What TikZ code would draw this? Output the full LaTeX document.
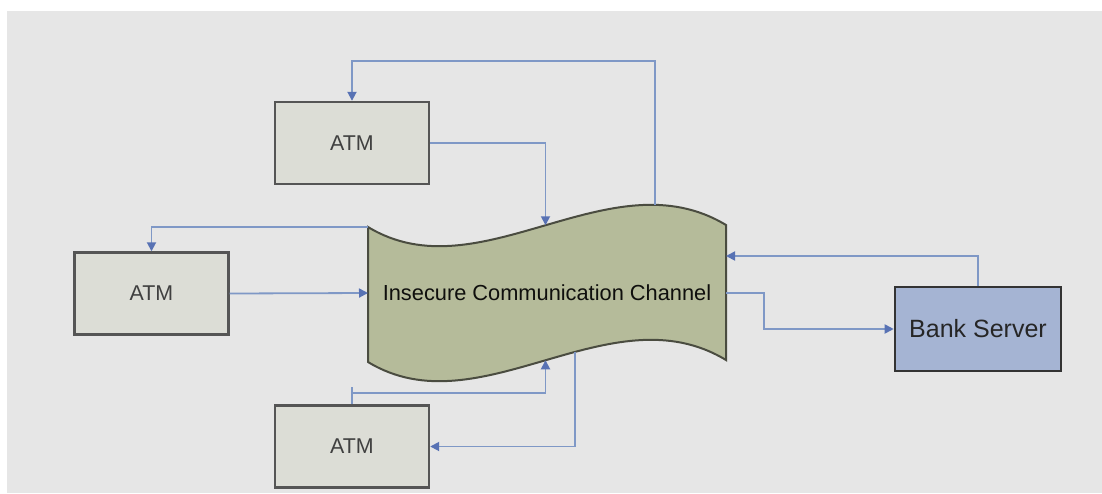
\documentclass[tikz,border=0pt]{standalone}
\usepackage{fontspec}
\setmainfont{Liberation Sans}
\usetikzlibrary{arrows.meta,calc}

\definecolor{pagebg}{HTML}{E6E6E6}
\definecolor{atmfill}{HTML}{DCDDD6}
\definecolor{boxline}{HTML}{555555}
\definecolor{chanfill}{HTML}{B5BB9A}
\definecolor{chanline}{HTML}{4A4C40}
\definecolor{bankfill}{HTML}{A5B4D3}
\definecolor{link}{HTML}{7F98C6}
\definecolor{tipblue}{HTML}{5872B4}

\tikzset{
  atmbox/.style={draw=boxline, line width=1.2pt, fill=atmfill,
    minimum width=77pt, minimum height=41pt, inner sep=0pt,
    font=\fontsize{10.7}{12}\selectfont, text=black!75},
  bankbox/.style={draw=black!80, line width=1.3pt, fill=bankfill,
    minimum width=83pt, minimum height=42pt, inner sep=0pt,
    font=\fontsize{12.5}{14}\selectfont, text=black!85},
  link/.style={draw=link, line width=0.9pt,
    -{Triangle[length=4.5pt,width=4.5pt,fill=tipblue,color=tipblue]}},
}

\begin{document}
\begin{tikzpicture}[x=0.5pt, y=-0.5pt]
  % page and grey panel
  \useasboundingbox (0,0) rectangle (1102,493);
  \fill[white] (0,0) rectangle (1102,493);
  \fill[pagebg] (7,11) rectangle (1102,493);

  % wavy channel shape with anchor points along its edges
  \path[fill=chanfill, draw=chanline, line width=1pt]
    (368,227) coordinate (ctl)
    .. controls (480,295) and (610,155) .. (726,225)
       coordinate[pos=0.5] (ctopin) coordinate[pos=0.8] (ctopout)
    -- (726,360)
    .. controls (610,290) and (480,430) .. (368,362)
       coordinate[pos=0.42] (cbotout) coordinate[pos=0.5] (cbotin)
    -- cycle;
  \node[font=\fontsize{10.9}{12}\selectfont, text=black!80!chanline] (chan) at (547,293)
    {Insecure Communication Channel};
  \coordinate (cw) at (368,293);
  \coordinate (ce) at (726,293);

  % terminals
  \node[atmbox] (tatm) at (352,143) {ATM};
  \node[atmbox] (matm) at (151.5,293.5) {ATM};
  \node[atmbox] (batm) at (352,446.5) {ATM};
  \node[bankbox] (bank) at (978,329) {Bank Server};

  % routing helpers
  \coordinate (topbend) at (352,61);
  \coordinate (rightbend) at (764,293);
  \coordinate (bankin) at (726,256);

  % connectors
  \draw[link] (ctopout) |- (topbend) -- (tatm.north);
  \draw[link] (tatm.east) -| (ctopin);
  \draw[link] (ctl) -| (matm.north);
  \draw[link] (matm.east) -- (cw);
  \draw[link] (ce) -- (rightbend) |- (bank.west);
  \draw[link] (bank.north) |- (bankin);
  \draw[link] (batm.north) -- ++(0,-17) ++(0,6) -| (cbotin);
  \draw[link] (cbotout) |- (batm.east);
\end{tikzpicture}
\end{document}
